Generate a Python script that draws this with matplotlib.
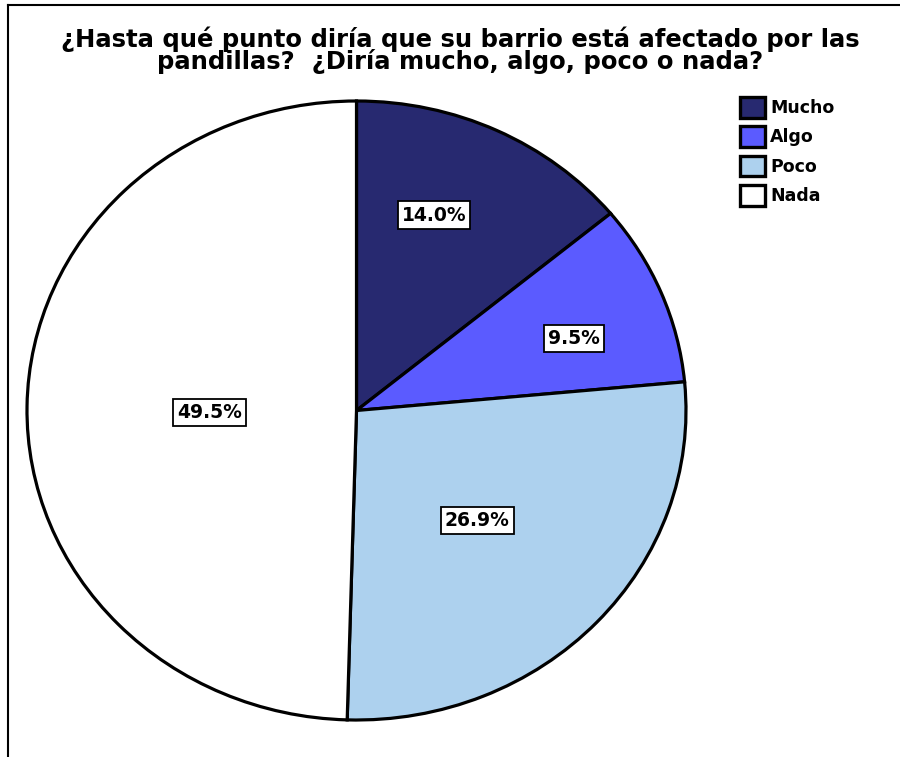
import numpy as np
import matplotlib
matplotlib.use("Agg")
import matplotlib.pyplot as plt
from matplotlib.lines import Line2D
from matplotlib.patches import Patch

categories = ["Mucho", "Algo", "Poco", "Nada"]
values = [14.0, 9.5, 26.9, 49.5]
colors = ["#272970", "#5b5bff", "#add1ee", "#ffffff"]
title = ("¿Hasta qué punto diría que su barrio está afectado por las\n"
         "pandillas?  ¿Diría mucho, algo, poco o nada?")

# label placement (fraction of radius, angle shift in degrees), as in the original
label_dist = [0.674, 0.70, 0.51, 0.445]
label_shift = [4.8, -3.0, -1.0, 1.5]

plt.rcParams['font.family'] = ['DejaVu Sans']

W, H = 900, 757
fig = plt.figure(figsize=(W / 100, H / 100), dpi=100)

# frame lines (left and top only visible)
fig.add_artist(Line2D([8 / W, 8 / W], [0, 1 - 5 / H], color="black", lw=1.5))
fig.add_artist(Line2D([8 / W, 1], [1 - 5 / H, 1 - 5 / H], color="black", lw=1.5))

ax = fig.add_axes([27 / W, 37 / H, 659 / W, 619 / H])
wedges, _ = ax.pie(values, colors=colors, startangle=90, counterclock=False,
                   wedgeprops=dict(edgecolor="black", linewidth=2.3))
ax.set_xlim(-1, 1)
ax.set_ylim(-1, 1)
ax.set_aspect('auto')
ax.axis('off')

for w, v, d, s in zip(wedges, values, label_dist, label_shift):
    ang = np.deg2rad((w.theta1 + w.theta2) / 2 + s)
    ax.text(d * np.cos(ang), d * np.sin(ang), f"{v:.1f}%", ha="center", va="center",
            fontsize=13.5, fontweight="bold",
            bbox=dict(boxstyle="square,pad=0.22", facecolor="white", edgecolor="black", lw=1.3))

fig.text(460 / W, 1 - 50 / H, title, ha="center", va="center", fontsize=17.5,
         fontweight="bold", linespacing=0.85)

handles = [Patch(facecolor=c, edgecolor="black", linewidth=2.4) for c in colors]
fig.legend(handles, categories, loc="upper left", bbox_to_anchor=(740 / W, 1 - 97 / H),
           frameon=False, prop=dict(weight="bold", size=12.5), handlelength=1.45,
           handleheight=1.45, handletextpad=0.3, labelspacing=0.5, borderpad=0,
           borderaxespad=0)

fig.savefig("out.png", dpi=100)
